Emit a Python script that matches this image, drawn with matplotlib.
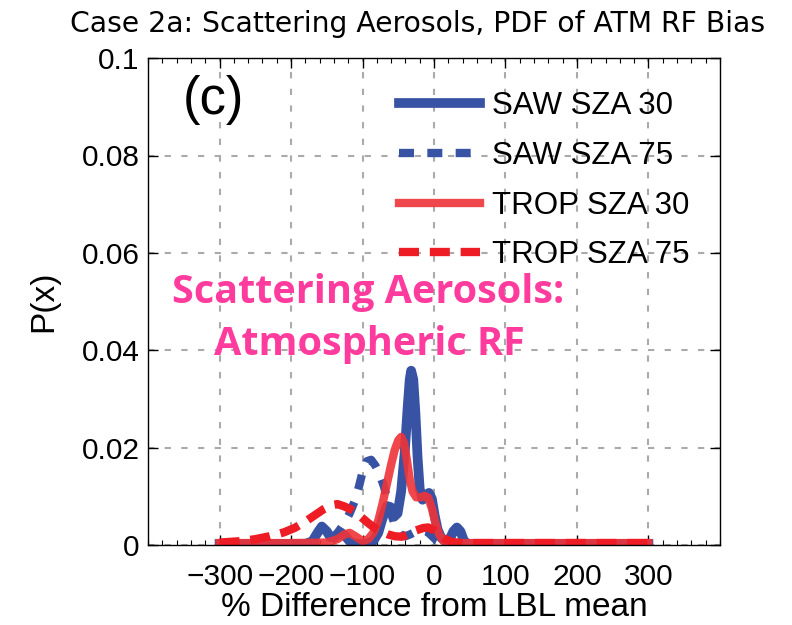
import numpy as np
import matplotlib.pyplot as plt
from matplotlib.ticker import MultipleLocator

# SAW SZA 30 (blue solid)
saw30_x = [-300, -180, -170, -163, -157, -150, -145, -138, -131, -124, -117, -108, -95, -85, -78,
           -72, -66, -61, -56, -51, -46, -41, -37, -34, -32, -29, -26, -23, -20, -16, -12, -7, -3,
           1, 5, 10, 16, 22, 27, 32, 37, 42, 48, 300]
saw30_y = [0.0002, 0.0002, 0.0008, 0.0025, 0.0038, 0.0028, 0.0016, 0.0016, 0.0026, 0.0018, 0.0006,
           0.0002, 0.0002, 0.0008, 0.0025, 0.0055, 0.008, 0.0078, 0.0058, 0.0065, 0.011, 0.019,
           0.028, 0.034, 0.0358, 0.034, 0.027, 0.018, 0.0115, 0.0093, 0.0102, 0.0107, 0.0095,
           0.006, 0.0032, 0.0015, 0.0008, 0.0012, 0.0028, 0.0036, 0.0028, 0.0008, 0.0002, 0.0002]

# SAW SZA 75 (blue dashed)
saw75_x = [-300, -160, -145, -135, -125, -118, -111, -105, -100, -94, -88, -82, -76, -70, -64,
           -58, -52, -46, -40, -33, -25, -17, -10, -4, 3, 12, 300]
saw75_y = [0.0002, 0.0003, 0.001, 0.0025, 0.0045, 0.0065, 0.009, 0.012, 0.015, 0.0172, 0.0175,
           0.0163, 0.0145, 0.012, 0.0085, 0.0055, 0.0032, 0.002, 0.0018, 0.0022, 0.0028, 0.003,
           0.0028, 0.002, 0.001, 0.0003, 0.0002]

# TROP SZA 30 (red solid)
trop30_x = [-300, -200, -150, -135, -125, -118, -110, -100, -92, -85, -78, -72, -66, -60, -55,
            -50, -46, -42, -38, -34, -30, -25, -19, -13, -8, -3, 2, 7, 13, 20, 300]
trop30_y = [0.0004, 0.0004, 0.0005, 0.0012, 0.0022, 0.0025, 0.0018, 0.0008, 0.0012, 0.0025,
            0.005, 0.0085, 0.0125, 0.0165, 0.0195, 0.0215, 0.0222, 0.021, 0.0175, 0.0135, 0.011,
            0.0098, 0.0098, 0.0101, 0.0097, 0.0075, 0.0045, 0.0022, 0.0008, 0.0004, 0.0004]

# TROP SZA 75 (red dashed)
trop75_x = [-300, -270, -250, -230, -210, -195, -180, -168, -155, -143, -135, -125, -115, -108,
            -100, -92, -85, -75, -65, -55, -45, -35, -25, -15, -8, 0, 7, 15, 25, 40, 300]
trop75_y = [0.0005, 0.0008, 0.0012, 0.0018, 0.0026, 0.0035, 0.0048, 0.006, 0.0073, 0.0082,
            0.0084, 0.0079, 0.0072, 0.0065, 0.0055, 0.0045, 0.0037, 0.0028, 0.0022, 0.0018,
            0.0017, 0.0022, 0.003, 0.0035, 0.0036, 0.003, 0.0022, 0.0013, 0.0006, 0.0004, 0.0004]

x_ticks = [-300, -200, -100, 0, 100, 200, 300]
y_ticks = [0, 0.02, 0.04, 0.06, 0.08, 0.1]
y_tick_labels = ["0", "0.02", "0.04", "0.06", "0.08", "0.1"]

blue = "#3953a4"
red = "#ee3338"
red2 = "#ee1c25"

plt.rcParams["font.family"] = ["Liberation Sans", "DejaVu Sans"]

fig = plt.figure(figsize=(7.92, 6.25), dpi=100)
ax = fig.add_axes([0.187, 0.128, 0.722, 0.779])

ax.plot(saw30_x, saw30_y, color=blue, lw=7, solid_joinstyle="round", label="SAW SZA 30")
ax.plot(saw75_x, saw75_y, color=blue, lw=6, dashes=(1.8, 1.6), label="SAW SZA 75")
ax.plot(trop30_x, trop30_y, color=red, lw=6, alpha=0.9, solid_joinstyle="round", label="TROP SZA 30")
ax.plot(trop75_x, trop75_y, color=red2, lw=6, dashes=(2.4, 1.3), label="TROP SZA 75")

ax.set_xlim(-400, 400)
ax.set_ylim(0, 0.1)
ax.set_xticks(x_ticks)
ax.set_xticklabels([str(v).replace("-", "\u2212") for v in x_ticks])
ax.xaxis.set_minor_locator(MultipleLocator(20))
ax.set_yticks(y_ticks)
ax.set_yticklabels(y_tick_labels)
ax.tick_params(which="both", direction="in", top=True, right=True, labelsize=21.5)
ax.tick_params(which="major", length=7, width=1, pad=6)
ax.tick_params(axis="x", which="major", pad=13)
ax.tick_params(which="minor", length=3.5, width=0.8)
ax.grid(True, color="#aaaaaa", linestyle=(0, (3, 5)), lw=1.5)
ax.set_axisbelow(True)
for s in ax.spines.values():
    s.set_linewidth(1)

ax.set_xlabel("% Difference from LBL mean", fontsize=24, labelpad=1)
ax.set_ylabel("P(x)", fontsize=24, labelpad=16)
ax.set_title("Case 2a: Scattering Aerosols, PDF of ATM RF Bias", fontsize=20.3,
             family="DejaVu Sans", pad=19, x=0.472)

ax.text(-308, 0.0914, "(c)", fontsize=38, ha="center", va="center")
ax.text(-92, 0.0497, "Scattering Aerosols:", fontsize=28.5, fontweight="bold",
        color="#ff3c9e", ha="center", va="baseline", family="Open Sans")
ax.text(-90, 0.039, "Atmospheric RF", fontsize=28.5, fontweight="bold",
        color="#ff3c9e", ha="center", va="baseline", family="Open Sans")

ax.legend(loc="upper left", bbox_to_anchor=(0.438, 0.932), frameon=False, fontsize=22.5,
          handlelength=2.6, labelspacing=0.63, handletextpad=0.4, borderpad=0,
          borderaxespad=0)

fig.savefig("out.png", dpi=100)
